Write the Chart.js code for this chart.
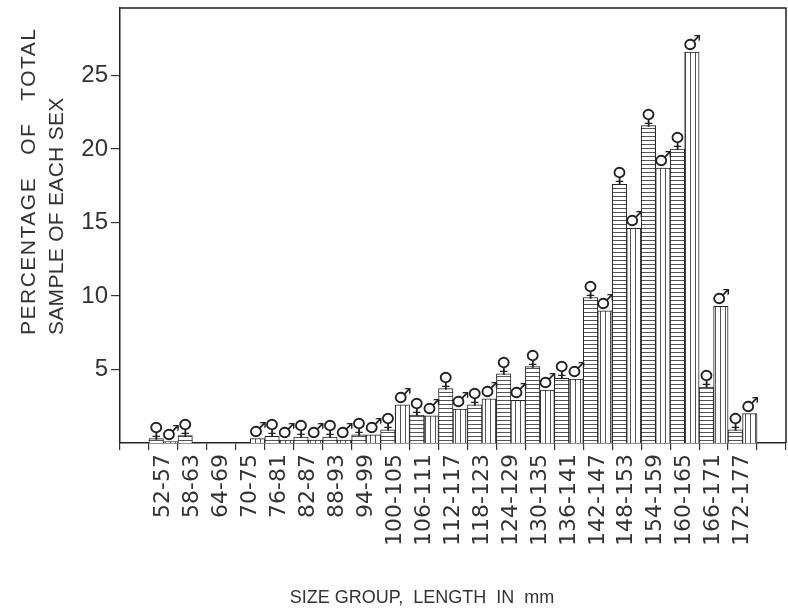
<!DOCTYPE html>
<html>
<head>
<meta charset="utf-8">
<script src="https://cdn.jsdelivr.net/npm/chart.js@4.4.1/dist/chart.umd.min.js"></script>
<style>
  html, body { margin: 0; padding: 0; background: #fff; }
  #wrap { width: 788px; height: 613px; }
</style>
</head>
<body>
<div id="wrap"><canvas id="chart"></canvas></div>
<script>
// size groups, length in mm
const sizeGroups = ['52-57', '58-63', '64-69', '70-75', '76-81', '82-87', '88-93', '94-99',
  '100-105', '106-111', '112-117', '118-123', '124-129', '130-135', '136-141',
  '142-147', '148-153', '154-159', '160-165', '166-171', '172-177'];

// percent of the total sample of each sex; null where none were taken
const femalePct = [0.3, 0.5, null, null, 0.45, 0.4, 0.4, 0.55, 0.9, 1.9, 3.7, 2.6,
  4.7, 5.2, 4.4, 9.9, 17.6, 21.6, 20.0, 3.8, 0.9];
const malePct = [0.1, null, null, 0.3, 0.2, 0.2, 0.2, 0.55, 2.6, 1.85, 2.3, 3.0,
  2.9, 3.6, 4.35, 9.0, 14.6, 18.7, 26.6, 9.3, 2.0];

const yTicks = [5, 10, 15, 20, 25];
const yMax = 29.6;

const yTitleLines = ['PERCENTAGE   OF   TOTAL', 'SAMPLE OF EACH SEX'];
const xTitle = 'SIZE GROUP,  LENGTH  IN  mm';

// hatch fills: horizontal rules for females, vertical rules for males
const hatch = (dir) => {
  const size = dir === 'h' ? 4 : 5;
  const c = document.createElement('canvas');
  c.width = size;
  c.height = size;
  const g = c.getContext('2d');
  g.fillStyle = '#fff';
  g.fillRect(0, 0, size, size);
  g.fillStyle = '#555';
  if (dir === 'h') g.fillRect(0, 0, size, 1);
  else g.fillRect(0, 0, 1, size);
  return g.createPattern(c, 'repeat');
};

// one empty slot at each end of the axis
const pad = (arr) => [null, ...arr, null];

// sex symbol drawn over every bar
const sexSymbols = {
  id: 'sexSymbols',
  afterDatasetsDraw(chart) {
    const { ctx } = chart;
    ctx.save();
    ctx.font = '21px "DejaVu Sans"';
    ctx.fillStyle = '#222';
    ctx.textAlign = 'center';
    ctx.textBaseline = 'alphabetic';
    chart.data.datasets.forEach((ds, i) => {
      chart.getDatasetMeta(i).data.forEach((bar, j) => {
        if (ds.data[j] == null) return;
        ctx.fillText(ds.symbol, bar.x, bar.y - 2);
      });
    });
    ctx.restore();
  }
};

// top and right edges of the frame, plus the axis titles
const frameAndTitles = {
  id: 'frameAndTitles',
  afterDraw(chart) {
    const { ctx, chartArea: a } = chart;
    ctx.save();
    ctx.strokeStyle = '#222';
    ctx.lineWidth = 1.5;
    ctx.beginPath();
    ctx.moveTo(a.left, a.top);
    ctx.lineTo(a.right, a.top);
    ctx.lineTo(a.right, a.bottom);
    ctx.stroke();

    ctx.fillStyle = '#333';
    ctx.font = '21px "Liberation Sans"';
    ctx.textBaseline = 'middle';
    ctx.textAlign = 'left';
    yTitleLines.forEach((line, i) => {
      ctx.save();
      ctx.letterSpacing = i === 0 ? '1.5px' : '0.3px';
      ctx.translate(29 + 28 * i, 335);
      ctx.rotate(-Math.PI / 2);
      ctx.fillText(line, 0, 0);
      ctx.restore();
    });
    ctx.textAlign = 'center';
    ctx.font = '18px "Liberation Sans"';
    ctx.letterSpacing = '0px';
    ctx.fillText(xTitle, 422, 598);
    ctx.restore();
  }
};

new Chart(document.getElementById('chart'), {
  type: 'bar',
  data: {
    labels: pad(sizeGroups).map(l => l || ''),
    datasets: [
      {
        label: 'female',
        symbol: '\u2640',
        data: pad(femalePct),
        backgroundColor: hatch('h'),
        borderColor: '#222',
        borderWidth: 1,
        borderSkipped: 'bottom',
        barPercentage: 1,
        categoryPercentage: 1
      },
      {
        label: 'male',
        symbol: '\u2642',
        data: pad(malePct),
        backgroundColor: hatch('v'),
        borderColor: '#222',
        borderWidth: 1,
        borderSkipped: 'bottom',
        barPercentage: 1,
        categoryPercentage: 1
      }
    ]
  },
  options: {
    responsive: true,
    maintainAspectRatio: false,
    animation: false,
    layout: { padding: { top: 8, right: 2, left: 0, bottom: 0 } },
    plugins: {
      legend: { display: false },
      tooltip: { enabled: false }
    },
    scales: {
      x: {
        afterFit: (s) => {
          s.height = 170;
          s.paddingLeft = 0;
          s.paddingRight = 0;
        },
        ticks: {
          autoSkip: false,
          minRotation: 90,
          maxRotation: 90,
          padding: 4,
          color: '#333',
          font: { family: 'DejaVu Sans', size: 22 }
        },
        grid: { offset: true, drawOnChartArea: false, tickLength: 7, color: '#333', lineWidth: 1.2 },
        border: { color: '#222', width: 1.5 }
      },
      y: {
        min: 0,
        max: yMax,
        afterFit: (s) => {
          s.width = 120;
          s.paddingTop = 0;
          s.paddingBottom = 0;
        },
        afterBuildTicks: (s) => { s.ticks = yTicks.map(v => ({ value: v })); },
        ticks: {
          padding: 3,
          color: '#333',
          font: { family: 'Liberation Sans', size: 24 }
        },
        grid: { drawOnChartArea: false, tickLength: 9, color: '#333', lineWidth: 1.2 },
        border: { color: '#222', width: 1.5 }
      }
    }
  },
  plugins: [sexSymbols, frameAndTitles]
});
</script>
</body>
</html>
